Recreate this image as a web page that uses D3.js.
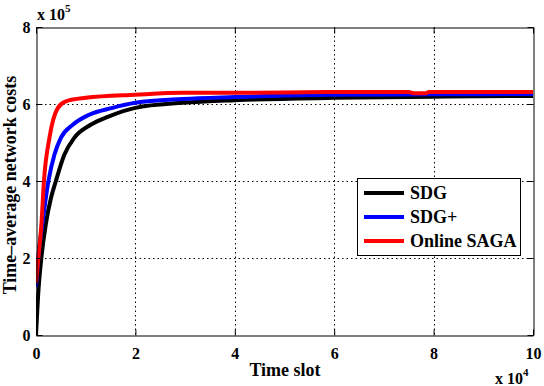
<!DOCTYPE html>
<html lang="en">
<head>
    <meta charset="UTF-8">
    <title>Time-average network costs</title>
    <script src="https://cdn.jsdelivr.net/npm/d3@7"></script>
    <style>
        body{ margin:0; background:#fff }
        svg{ display:block }
        svg text{ font-family:"Liberation Serif", "DejaVu Serif", serif; font-weight:bold; fill:#000 }
    </style>
</head>
<body>
    <svg id="container" width="544" height="386"></svg>
</body>
<script>
    // time slots and costs
    let sdgT  = [0, 500, 1100, 2000, 3000, 4000, 5700, 7700, 11000, 14700, 20000, 29500, 40000, 60000, 80000, 100000]
    let sdgV  = [0, 117000, 203000, 290000, 355000, 400000, 468000, 512000, 546000, 568000, 590000, 603000, 610000, 616000, 619000, 621000]
    let plusT = [0, 600, 1300, 2500, 3700, 5000, 7400, 10700, 15400, 20000, 29500, 40000, 59000, 80000, 100000]
    let plusV = [125000, 220000, 290000, 400000, 468000, 512000, 546000, 572000, 590000, 603000, 613000, 618000, 624000, 625000, 626000]
    let sagaT = [0, 500, 1100, 1600, 2700, 4400, 6000, 10000, 20000, 29600, 40000, 59000, 75000, 76000, 78500, 79000, 100000]
    let sagaV = [135000, 203000, 290000, 400000, 512000, 590000, 607000, 616000, 624000, 629000, 629000, 631000, 631000, 628000, 628000, 631000, 631000]

    let seriesNames = ["SDG", "SDG+", "Online SAGA"]
    let seriesColors = ["#000000", "#0000ff", "#ff0000"]
    let xTicks = [0, 20000, 40000, 60000, 80000, 100000]
    let yTicks = [0, 200000, 400000, 600000, 800000]

    let pLeft = 36, pRight = 533, pTop = 27, pBottom = 335
    let svg = d3.select("#container")

    let x = d3.scaleLinear().domain([0, 100000]).range([pLeft, pRight])
    let y = d3.scaleLinear().domain([0, 800000]).range([pBottom, pTop])

    // dotted grid
    let grid = svg.append("g").attr("stroke", "#000").attr("stroke-width", 1).attr("stroke-dasharray", "1.5,3")
    grid.selectAll(".gx").data(xTicks.slice(1, -1)).enter().append("line")
        .attr("x1", d => Math.round(x(d)) + 0.5).attr("x2", d => Math.round(x(d)) + 0.5)
        .attr("y1", pTop).attr("y2", pBottom)
    grid.selectAll(".gy").data(yTicks.slice(1, -1)).enter().append("line")
        .attr("y1", d => Math.round(y(d)) + 0.5).attr("y2", d => Math.round(y(d)) + 0.5)
        .attr("x1", pLeft).attr("x2", pRight)

    // lines
    svg.append("clipPath").attr("id", "clip").append("rect")
        .attr("x", pLeft).attr("y", pTop).attr("width", pRight - pLeft).attr("height", pBottom - pTop)
    let line = d3.line().x(d => x(d[0])).y(d => y(d[1])).curve(d3.curveMonotoneX)
    let data = [d3.zip(sdgT, sdgV), d3.zip(plusT, plusV), d3.zip(sagaT, sagaV)]
    svg.append("g").attr("clip-path", "url(#clip)")
        .selectAll("path").data(data).enter().append("path")
        .attr("d", line)
        .attr("fill", "none")
        .attr("stroke", (d, i) => seriesColors[i])
        .attr("stroke-width", 4)

    // axes, matlab style ticks inside
    let xaxis = d3.axisBottom(x).tickValues(xTicks).tickSizeInner(-6).tickSizeOuter(0).tickPadding(12).tickFormat(d => d / 10000)
    let yaxis = d3.axisLeft(y).tickValues(yTicks).tickSizeInner(-6).tickSizeOuter(0).tickPadding(6).tickFormat(d => d / 100000)
    svg.append("g").attr("transform", "translate(0," + (pBottom + 0.5) + ")").call(xaxis)
    svg.append("g").attr("transform", "translate(" + (pLeft + 0.5) + ",0)").call(yaxis)
    svg.append("g").attr("transform", "translate(0," + (pTop + 0.5) + ")")
        .call(d3.axisTop(x).tickValues(xTicks).tickSizeInner(-6).tickSizeOuter(0).tickFormat(""))
    svg.append("g").attr("transform", "translate(" + (pRight + 0.5) + ",0)")
        .call(d3.axisRight(y).tickValues(yTicks).tickSizeInner(-6).tickSizeOuter(0).tickFormat(""))
    svg.selectAll(".domain").attr("stroke", "#000")
    svg.selectAll(".tick line").attr("stroke", "#000")
    svg.selectAll(".tick text").style("font-size", "16px")

    // labels
    svg.append("text").text("Time slot")
        .attr("x", 285).attr("y", 376).attr("text-anchor", "middle").style("font-size", "18px")
    svg.append("text").text("Time\u2013average network costs")
        .attr("transform", "translate(16," + ((pTop + pBottom) / 2 + 4) + ") rotate(-90)")
        .attr("text-anchor", "middle").style("font-size", "18px")

    let e5 = svg.append("text").attr("x", 37).attr("y", 20).style("font-size", "16px")
    e5.append("tspan").text("x 10")
    e5.append("tspan").text("5").attr("dy", -8).style("font-size", "11px")
    let e4 = svg.append("text").attr("x", 495).attr("y", 384).style("font-size", "16px")
    e4.append("tspan").text("x 10")
    e4.append("tspan").text("4").attr("dy", -8).style("font-size", "11px")

    // legend
    let legend = svg.append("g").attr("transform", "translate(357,178)")
    legend.append("rect").attr("x", 0.5).attr("y", 0.5).attr("width", 163).attr("height", 77)
        .attr("fill", "#fff").attr("stroke", "#000")
    let items = legend.selectAll(".item").data(seriesNames).enter().append("g")
        .attr("transform", (d, i) => "translate(0," + (15 + i * 24) + ")")
    items.append("line").attr("x1", 7).attr("x2", 47)
        .attr("stroke", (d, i) => seriesColors[i]).attr("stroke-width", 4)
    items.append("text").text(d => d).attr("x", 53).attr("y", 6).style("font-size", "18px")
</script>
</html>
